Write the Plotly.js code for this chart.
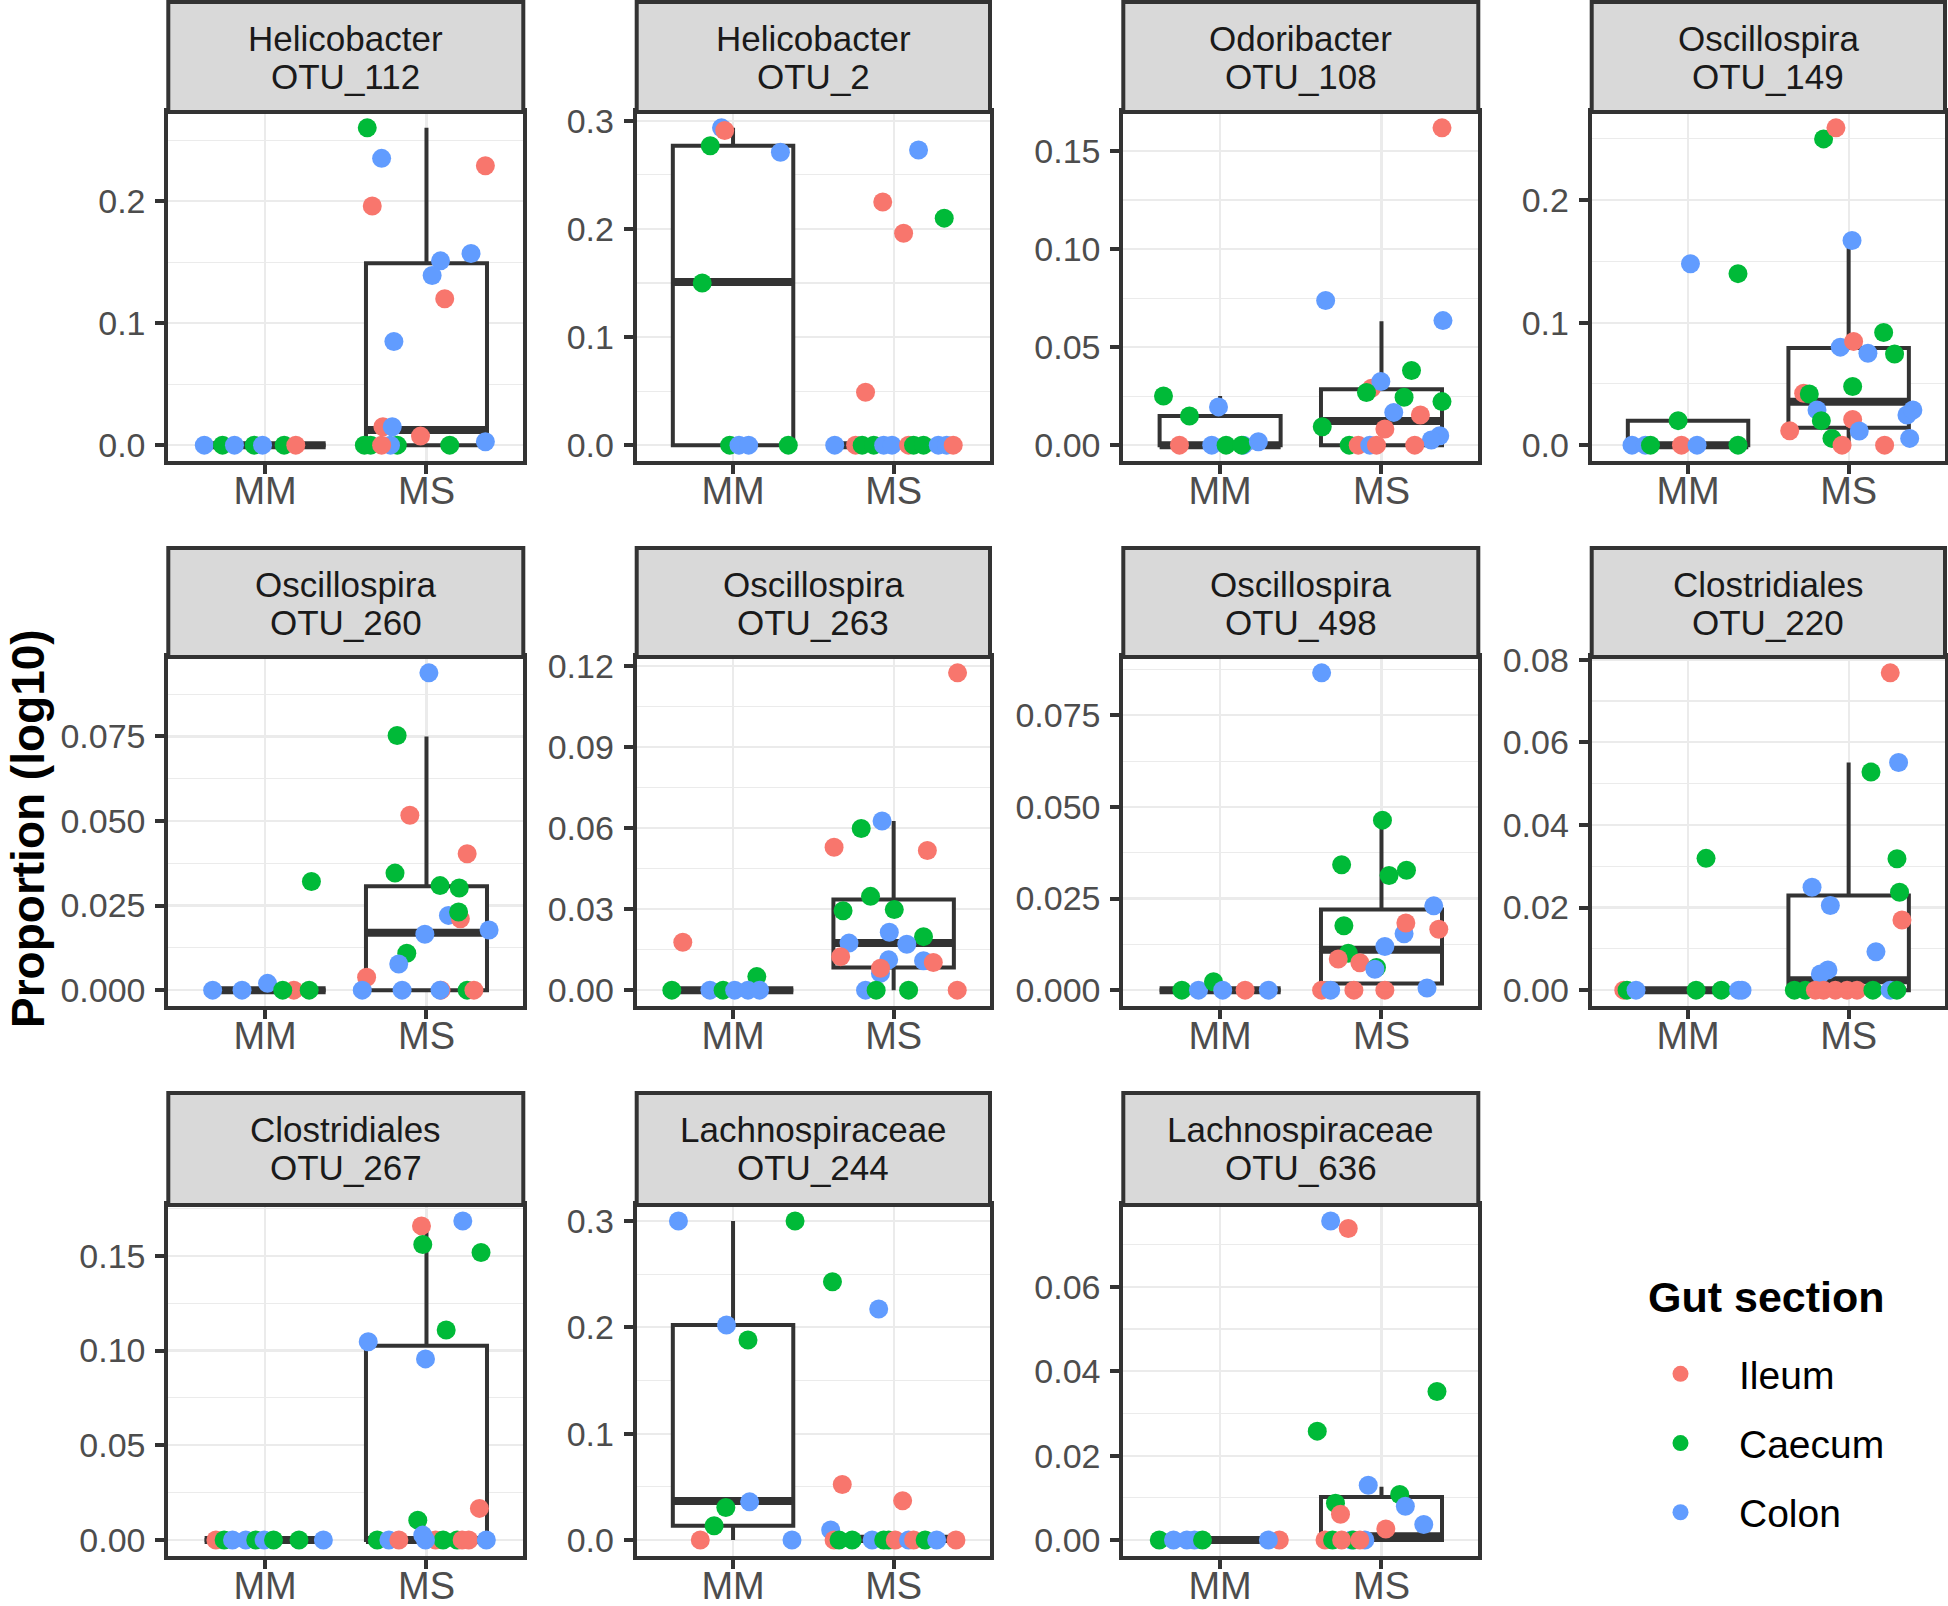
<!DOCTYPE html>
<html><head><meta charset="utf-8">
<script src="https://cdn.plot.ly/plotly-3.0.1.min.js"></script>
<style>html,body{margin:0;padding:0;background:#fff}#chart{width:1948px;height:1606px}</style>
</head><body><div id="chart"></div>
<script>
// ---------------- data ----------------
const groups = ['MM', 'MS'];
const legendTitle = 'Gut section';
const sections = ['Ileum', 'Caecum', 'Colon'];
const sectionCodes = ['I', 'C', 'L'];
const sectionColors = ['#F8766D', '#00BA38', '#619CFF'];
const taxa = ['Helicobacter','Helicobacter','Odoribacter','Oscillospira','Oscillospira','Oscillospira','Oscillospira','Clostridiales','Clostridiales','Lachnospiraceae','Lachnospiraceae'];
const otus = ['OTU_112','OTU_2','OTU_108','OTU_149','OTU_260','OTU_263','OTU_498','OTU_220','OTU_267','OTU_244','OTU_636'];
const yDtick = [0.1, 0.1, 0.05, 0.1, 0.025, 0.03, 0.025, 0.02, 0.05, 0.1, 0.02];
const yFormat = ['.1f','.1f','.2f','.1f','.3f','.2f','.3f','.2f','.2f','.1f','.2f'];

// box statistics per panel: [MM, MS]
const boxQ1     = [[0,0],[0,0],[0,0],[0,0.0142],[0,0],[0,0.0084],[0,0.0018],[0,0],[0,0],[0.0134,0],[0,0]];
const boxMedian = [[0,0.0125],[0.151,0],[0,0.0123],[0,0.0355],[0,0.017],[0,0.0174],[0,0.011],[0,0.0024],[0,0],[0.0366,0.001],[0,0.0009]];
const boxQ3     = [[0,0.149],[0.277,0],[0.0149,0.0285],[0.020,0.0792],[0,0.0307],[0,0.0335],[0,0.022],[0,0.0229],[0,0.1026],[0.2022,0.003],[0,0.0102]];
const boxLower  = [[0,0],[0,0],[0,0],[0,0],[0,0],[0,0],[0,0],[0,0],[0,0],[0,0],[0,0]];
const boxUpper  = [[0,0.260],[0.2935,0],[0.0251,0.0632],[0.020,0.167],[0,0.075],[0,0.0626],[0,0.0464],[0,0.0551],[0,0.1684],[0.300,0.003],[0,0.0126]];

// points: [section, horizontal jitter, proportion]
const OTU_112_MM = [['L',-0.377,0],['C',-0.264,0],['L',-0.19,0],['C',-0.068,0],['L',-0.016,0],['C',0.118,0],['I',0.19,0]];
const OTU_112_MS = [['C',-0.385,0],['C',-0.346,0],['C',-0.181,0],['C',0.144,0],['L',-0.223,0],['I',-0.278,0],
  ['C',-0.367,0.260],['L',-0.278,0.235],['I',-0.336,0.196],['I',0.365,0.229],['L',0.087,0.151],['L',0.276,0.157],['L',0.035,0.139],
  ['I',0.113,0.120],['L',-0.202,0.085],['I',-0.27,0.015],['L',-0.212,0.015],['I',-0.037,0.0074],['L',0.365,0.0027]];
const OTU_2_MM = [['L',-0.072,0.2935],['I',-0.052,0.291],['C',-0.142,0.277],['L',0.295,0.271],['C',-0.192,0.150],['C',-0.021,0],['L',0.037,0],['L',0.097,0],['C',0.344,0]];
const OTU_2_MS = [['L',0.155,0.273],['I',-0.068,0.225],['C',0.315,0.210],['I',0.062,0.196],['I',-0.175,0.049],['L',-0.367,0],['I',-0.237,0],['C',-0.196,0],
  ['C',-0.124,0],['L',-0.062,0],['L',-0.01,0],['I',0.093,0],['C',0.124,0],['C',0.186,0],['L',0.278,0],['L',0.33,0],['I',0.371,0]];
const OTU_108_MM = [['I',-0.252,0],['L',-0.052,0],['C',0.037,0],['L',0.144,0],['C',0.134,0],['L',0.237,0.0017],['C',-0.351,0.0251],['C',-0.19,0.0149],['L',-0.01,0.0195]];
const OTU_108_MS = [['I',0.375,0.1618],['L',-0.346,0.0738],['L',0.381,0.0635],['C',0.186,0.0381],['I',-0.062,0.029],['L',-0.004,0.0325],['C',-0.093,0.0268],
  ['C',0.14,0.0244],['L',0.076,0.0167],['I',0.241,0.0154],['C',0.375,0.0222],['C',-0.367,0.0094],['I',0.021,0.0082],['L',0.361,0.0048],['L',0.309,0.0026],
  ['C',-0.2,0],['I',-0.144,0],['L',-0.072,0],['I',-0.031,0],['I',0.206,0]];
const OTU_149_MM = [['L',0.015,0.148],['C',0.311,0.140],['C',-0.062,0.020],['L',-0.349,0],['L',-0.266,0],['C',-0.234,0],['I',-0.041,0],['L',0.056,0],['C',0.311,0]];
const OTU_149_MS = [['C',-0.156,0.250],['I',-0.079,0.259],['L',0.021,0.167],['C',0.218,0.092],['L',-0.052,0.080],['I',0.031,0.0847],['L',0.12,0.075],['C',0.286,0.0743],
  ['C',0.025,0.0478],['I',-0.28,0.0423],['C',-0.245,0.0418],['L',-0.197,0.0287],['L',0.363,0.0246],['L',0.40,0.0287],['C',-0.17,0.020],['I',0.025,0.021],
  ['I',-0.367,0.0117],['L',0.066,0.0115],['C',-0.104,0.0055],['L',0.38,0.0055],['I',-0.041,0],['I',0.224,0]];
const OTU_260_MM = [['C',0.287,0.0321],['L',0.015,0.002],['L',-0.325,0],['L',-0.143,0],['I',0.178,0],['C',0.109,0],['C',0.273,0]];
const OTU_260_MS = [['L',0.015,0.0938],['C',-0.182,0.0753],['I',-0.103,0.0517],['I',0.252,0.0403],['C',-0.195,0.0346],['C',0.084,0.0309],['C',0.203,0.0302],
  ['L',0.136,0.0221],['I',0.21,0.0211],['C',0.199,0.0231],['L',0.388,0.0178],['L',-0.01,0.0165],['C',-0.122,0.0109],['L',-0.172,0.0077],['I',-0.371,0.0038],
  ['L',-0.398,0],['L',-0.151,0],['I',0.09,0],['L',0.084,0],['C',0.252,0],['I',0.294,0]];
const OTU_263_MM = [['I',-0.313,0.0177],['C',0.148,0.005],['C',-0.381,0],['L',-0.144,0],['C',-0.062,0],['L',0.01,0],['L',0.093,0],['L',0.165,0]];
const OTU_263_MS = [['I',0.398,0.1174],['L',-0.072,0.0626],['C',-0.202,0.0598],['I',-0.371,0.0529],['I',0.21,0.0517],['C',-0.144,0.0347],['C',-0.315,0.0294],
  ['C',0.004,0.0298],['L',-0.027,0.0214],['C',0.186,0.0198],['L',-0.278,0.0174],['L',0.082,0.017],['I',-0.33,0.0124],['L',-0.031,0.0112],['L',0.186,0.0109],
  ['I',0.247,0.0102],['L',-0.082,0.0062],['I',-0.082,0.0081],['L',-0.175,0],['C',-0.109,0],['C',0.093,0],['I',0.396,0]];
const OTU_498_MM = [['C',-0.237,0],['L',-0.134,0],['C',-0.041,0.0023],['L',0.016,0],['I',0.155,0],['L',0.299,0]];
const OTU_498_MS = [['L',-0.371,0.0866],['C',0.006,0.0464],['C',-0.247,0.0342],['C',0.155,0.0327],['C',0.047,0.0313],['L',0.324,0.023],['C',-0.233,0.0176],
  ['L',0.14,0.0154],['I',0.151,0.0183],['I',0.355,0.0166],['L',0.021,0.0119],['C',-0.206,0.0101],['I',-0.268,0.0085],['I',-0.134,0.0075],['C',-0.031,0.0062],
  ['L',-0.041,0.0057],['L',0.282,0.0006],['I',-0.371,0],['L',-0.315,0],['I',-0.171,0],['I',0.021,0]];
const OTU_220_MM = [['C',0.112,0.0319],['I',-0.4,0],['C',-0.38,0],['L',-0.324,0],['C',0.05,0],['C',0.207,0],['L',0.315,0],['L',0.336,0]];
const OTU_220_MS = [['I',0.259,0.0768],['L',0.311,0.0551],['C',0.139,0.0528],['C',0.301,0.0318],['L',-0.228,0.0249],['C',0.317,0.0237],['L',-0.114,0.0205],
  ['I',0.332,0.017],['L',0.17,0.0093],['L',-0.129,0.0049],['L',-0.176,0.0039],['C',-0.338,0],['C',-0.27,0],['I',-0.207,0],['I',-0.156,0],['I',-0.083,0],
  ['I',-0.01,0],['I',0.052,0],['C',0.151,0],['L',0.259,0],['C',0.3,0]];
const OTU_267_MM = [['I',-0.305,0],['C',-0.254,0],['L',-0.202,0],['L',-0.12,0],['C',-0.058,0],['L',-0.006,0],['C',0.052,0],['C',0.21,0],['L',0.361,0]];
const OTU_267_MS = [['L',0.225,0.1684],['I',-0.031,0.1658],['C',-0.023,0.156],['C',0.338,0.1518],['C',0.122,0.1109],['L',-0.361,0.1047],['L',-0.006,0.0956],
  ['I',0.328,0.0167],['C',-0.054,0.0105],['C',-0.305,0],['L',-0.233,0],['I',-0.171,0],['I',0.056,0],['C',0.103,0],['C',0.19,0],['I',0.221,0],['I',0.262,0],
  ['L',0.371,0],['L',-0.006,0],['L',-0.023,0.0026]];
const OTU_244_MM = [['L',-0.34,0.300],['C',0.386,0.300],['L',-0.041,0.2022],['C',0.093,0.188],['L',0.103,0.0359],['C',-0.045,0.0306],['C',-0.118,0.0134],['I',-0.204,0],['L',0.367,0]];
const OTU_244_MS = [['C',-0.381,0.2428],['L',-0.093,0.2172],['I',-0.32,0.0522],['I',0.056,0.0369],['L',-0.392,0.0094],['I',-0.371,0],['C',-0.34,0],['C',-0.258,0],
  ['L',-0.134,0],['C',-0.062,0],['C',-0.031,0],['I',0.01,0],['L',0.093,0],['I',0.124,0],['C',0.196,0],['L',0.268,0],['I',0.388,0]];
const OTU_636_MM = [['C',-0.377,0],['L',-0.289,0],['L',-0.206,0],['L',-0.159,0],['C',-0.109,0],['I',0.367,0],['L',0.299,0]];
const OTU_636_MS = [['L',-0.315,0.0756],['I',-0.206,0.0738],['C',0.344,0.0352],['C',-0.398,0.0258],['L',-0.082,0.013],['C',0.113,0.0108],['C',-0.285,0.0087],
  ['L',0.148,0.008],['I',-0.254,0.0061],['L',0.262,0.0037],['I',0.027,0.0026],['I',-0.35,0],['L',-0.186,0],['L',-0.103,0],['C',-0.175,0],['I',-0.134,0],
  ['C',-0.303,0],['I',-0.247,0]];

const pointsMM = [OTU_112_MM, OTU_2_MM, OTU_108_MM, OTU_149_MM, OTU_260_MM, OTU_263_MM, OTU_498_MM, OTU_220_MM, OTU_267_MM, OTU_244_MM, OTU_636_MM];
const pointsMS = [OTU_112_MS, OTU_2_MS, OTU_108_MS, OTU_149_MS, OTU_260_MS, OTU_263_MS, OTU_498_MS, OTU_220_MS, OTU_267_MS, OTU_244_MS, OTU_636_MS];

// ---------------- layout geometry ----------------
const W = 1948, H = 1606;
const FONT = 'Liberation Sans, Arial, Helvetica, sans-serif';
const DARK = '#333333';
const LW = 4;
const colX = [[168.3, 523.3], [636.7, 990], [1123.3, 1478.3], [1591.7, 1945]];
const rowY = [[2, 112, 461], [548, 657, 1006], [1093, 1205, 1556]]; // strip top, panel top, panel bottom
const boxWidth = 0.75;

const traces = [];
const layout = {
  width: W, height: H,
  margin: {l: 0, r: 0, t: 0, b: 0, pad: 0},
  paper_bgcolor: '#FFFFFF', plot_bgcolor: '#FFFFFF',
  font: {family: FONT},
  showlegend: true,
  annotations: [], shapes: [],
  legend: {
    x: 1622 / W, xanchor: 'left', y: 1 - 1342 / H, yanchor: 'top',
    bgcolor: 'rgba(0,0,0,0)', borderwidth: 0,
    font: {family: FONT, size: 39, color: '#000000'},
    itemwidth: 107, tracegroupgap: 15.5, itemclick: false, itemdoubleclick: false
  }
};

otus.forEach((otu, i) => {
  const r = Math.floor(i / 4), c = i % 4;
  const sfx = i === 0 ? '' : String(i + 1);
  const xa = 'x' + sfx, ya = 'y' + sfx;
  const [x0, x1] = colX[c];
  const [st, pt, pb] = rowY[r];
  const all = pointsMM[i].concat(pointsMS[i]);
  const vals = all.map(p => p[2]);
  const ymax = Math.max(...vals), ymin = Math.min(0, ...vals);
  const span = ymax - ymin;

  layout['xaxis' + sfx] = {
    domain: [x0 / W, x1 / W], anchor: ya, type: 'linear',
    range: [-0.6, 1.6], tickmode: 'array', tickvals: [0, 1], ticktext: groups,
    showgrid: true, gridcolor: '#EBEBEB', gridwidth: 2.2, zeroline: false,
    showline: true, mirror: true, linecolor: DARK, linewidth: LW,
    ticks: 'outside', ticklen: 9, tickwidth: LW, tickcolor: DARK,
    ticklabelstandoff: -16,
    tickfont: {family: FONT, size: 38, color: '#4D4D4D'}, fixedrange: true
  };
  layout['yaxis' + sfx] = {
    domain: [1 - pb / H, 1 - pt / H], anchor: xa, type: 'linear',
    range: [ymin - 0.05 * span, ymax + 0.05 * span],
    tickmode: 'linear', tick0: 0, dtick: yDtick[i], tickformat: yFormat[i],
    minor: {tick0: 0, dtick: yDtick[i] / 2, showgrid: true, gridcolor: '#EBEBEB', gridwidth: 1.1, ticks: ''},
    showgrid: true, gridcolor: '#EBEBEB', gridwidth: 2.2, zeroline: false,
    showline: true, mirror: true, linecolor: DARK, linewidth: LW,
    ticks: 'outside', ticklen: 9, tickwidth: LW, tickcolor: DARK,
    ticklabelstandoff: 3,
    tickfont: {family: FONT, size: 34, color: '#4D4D4D'}, fixedrange: true
  };

  traces.push({
    type: 'box', xaxis: xa, yaxis: ya, x: [0, 1],
    q1: boxQ1[i], median: boxMedian[i], q3: boxQ3[i],
    lowerfence: boxLower[i], upperfence: boxUpper[i],
    width: boxWidth, fillcolor: '#FFFFFF', line: {color: DARK, width: LW},
    whiskerwidth: 0, boxpoints: false, hoverinfo: 'skip', showlegend: false
  });
  const mx = [], my = [];
  [0, 1].forEach(g => {
    mx.push(g - boxWidth / 2, g + boxWidth / 2, null);
    my.push(boxMedian[i][g], boxMedian[i][g], null);
  });
  traces.push({
    type: 'scatter', mode: 'lines', xaxis: xa, yaxis: ya, x: mx, y: my,
    line: {color: DARK, width: 2 * LW}, hoverinfo: 'skip', showlegend: false
  });
  const pts = pointsMM[i].map(p => [0].concat(p)).concat(pointsMS[i].map(p => [1].concat(p)));
  traces.push({
    type: 'scatter', mode: 'markers', xaxis: xa, yaxis: ya,
    x: pts.map(p => p[0] + p[2]), y: pts.map(p => p[3]),
    marker: {size: 19, color: pts.map(p => sectionColors[sectionCodes.indexOf(p[1])]), line: {width: 0}},
    hoverinfo: 'skip', showlegend: false
  });

  layout.shapes.push({
    type: 'rect', xref: 'paper', yref: 'paper',
    x0: x0 / W, x1: x1 / W, y0: 1 - st / H, y1: 1 - pt / H,
    fillcolor: '#D9D9D9', line: {color: DARK, width: LW}, layer: 'above'
  });
  const cx = (x0 + x1) / 2 / W;
  layout.annotations.push(
    {xref: 'paper', yref: 'paper', x: cx, y: 1 - (st + 36.5) / H, xanchor: 'center', yanchor: 'middle',
     text: taxa[i], showarrow: false, font: {family: FONT, size: 35, color: '#1A1A1A'}},
    {xref: 'paper', yref: 'paper', x: cx, y: 1 - (st + 74.5) / H, xanchor: 'center', yanchor: 'middle',
     text: otu, showarrow: false, font: {family: FONT, size: 35, color: '#1A1A1A'}}
  );
});

// y-axis title
layout.annotations.push({
  xref: 'paper', yref: 'paper', x: 28 / W, y: 1 - 829 / H, xanchor: 'center', yanchor: 'middle',
  textangle: -90, text: '<b>Proportion (log10)</b>', showarrow: false,
  font: {family: FONT, size: 46, color: '#000000'}
});
// legend title
layout.annotations.push({
  xref: 'paper', yref: 'paper', x: 1646 / W, y: 1 - 1297 / H, xanchor: 'left', yanchor: 'middle',
  text: '<b>' + legendTitle + '</b>', showarrow: false,
  font: {family: FONT, size: 43, color: '#000000'}
});

sections.forEach((s, k) => {
  traces.push({
    type: 'scatter', mode: 'markers', xaxis: 'x', yaxis: 'y', x: [null], y: [null],
    name: s, legendgroup: sectionCodes[k], showlegend: true,
    marker: {size: 19, color: sectionColors[k]}, hoverinfo: 'skip'
  });
});

Plotly.newPlot('chart', traces, layout, {displayModeBar: false, staticPlot: true});
</script>
</body></html>
